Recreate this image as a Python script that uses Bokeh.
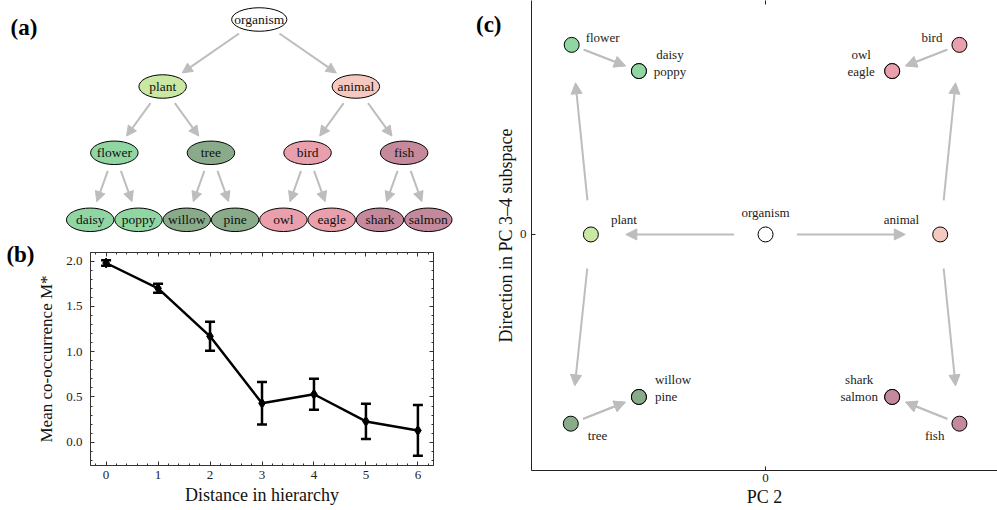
import math
from bokeh.plotting import figure
from bokeh.models import (Range1d, ColumnDataSource, Arrow, NormalHead, Whisker, TeeHead,
                          LinearAxis, SingleIntervalTicker, FixedTicker, Label, PrintfTickFormatter,
                          CustomJSTickFormatter)
from bokeh.layouts import row, column
from bokeh.embed import file_html
from bokeh.resources import INLINE
from bokeh.core.properties import value

# ---------------- data ----------------
node_names = ["organism", "plant", "animal", "flower", "tree", "bird", "fish",
              "daisy", "poppy", "willow", "pine", "owl", "eagle", "shark", "salmon"]
node_parents = [None, "organism", "organism", "plant", "plant", "animal", "animal",
                "flower", "flower", "tree", "tree", "bird", "bird", "fish", "fish"]
node_colors = ["#ffffff", "#c9e8a1", "#f6c9c0", "#8fd6a2", "#8aab8a", "#e9a0ac", "#c48a9b",
               "#8fd6a2", "#8fd6a2", "#8aab8a", "#8aab8a", "#e9a0ac", "#e9a0ac", "#c48a9b", "#c48a9b"]

distance = [0, 1, 2, 3, 4, 5, 6]
mean_cooc = [1.98, 1.70, 1.17, 0.43, 0.53, 0.23, 0.13]
cooc_err = [0.03, 0.05, 0.16, 0.235, 0.17, 0.195, 0.28]

# PC-space coordinates (PC 2, direction in PC 3-4 subspace)
pc2 = [0.0, -1.0, 1.0, -1.11, -1.115, 1.11, 1.11,
       -0.725, -0.725, -0.725, -0.725, 0.725, 0.725, 0.725, 0.725]
pc34 = [0.0, 0.0, 0.0, 1.085, -1.083, 1.085, -1.083,
        0.935, 0.935, -0.93, -0.93, 0.935, 0.935, -0.93, -0.93]

# labels in panel (c): text, node it belongs to
c_label_text = ["organism", "plant", "animal", "flower", "daisy", "poppy", "bird", "owl", "eagle",
                "tree", "willow", "pine", "fish", "shark", "salmon"]
c_label_node = ["organism", "plant", "animal", "flower", "daisy", "poppy", "bird", "owl", "eagle",
                "tree", "willow", "pine", "fish", "shark", "salmon"]

SERIF = "Liberation Serif"
GRAY = "#bdbdbd"

# ---------------- panel (a): hierarchy ----------------
children = {n: [] for n in node_names}
for n, par in zip(node_names, node_parents):
    if par:
        children[par].append(n)
depth = {}
for n, par in zip(node_names, node_parents):
    depth[n] = 0 if par is None else depth[par] + 1
leaves = [n for n in node_names if not children[n]]

LEAF_X0, LEAF_DX = 89.7, 48.3
LEVEL_Y = [19.0, 86.0, 152.3, 219.3]
tx = {}
for i, n in enumerate(leaves):
    tx[n] = LEAF_X0 + i * LEAF_DX


def place(n):
    if n in tx:
        return tx[n]
    xs = [place(c) for c in children[n]]
    tx[n] = sum(xs) / len(xs)
    return tx[n]


place(node_names[0])
ty = {n: LEVEL_Y[depth[n]] for n in node_names}
ew = {n: max(47.5, 6.9 * len(n)) for n in node_names}
EH = 23.5


def rad(n, ux, uy):
    a, b = ew[n] / 2, EH / 2
    return 1.0 / math.sqrt((ux / a) ** 2 + (uy / b) ** 2)


ea = dict(x0=[], y0=[], x1=[], y1=[])
for n, par in zip(node_names, node_parents):
    if par is None:
        continue
    dx, dy = tx[n] - tx[par], ty[n] - ty[par]
    L = math.hypot(dx, dy)
    ux, uy = dx / L, dy / L
    r0 = rad(par, ux, uy) + 7
    r1 = rad(n, ux, uy) + 7
    ea["x0"].append(tx[par] + ux * r0)
    ea["y0"].append(ty[par] + uy * r0)
    ea["x1"].append(tx[n] - ux * r1)
    ea["y1"].append(ty[n] - uy * r1)

pa = figure(width=470, height=240, x_range=Range1d(0, 470), y_range=Range1d(240, 0),
            output_backend="svg", toolbar_location=None, min_border=0)
pa.axis.visible = False
pa.grid.visible = False
pa.outline_line_color = None
pa.add_layout(Arrow(source=ColumnDataSource(ea), x_start="x0", y_start="y0", x_end="x1", y_end="y1",
                    line_color=GRAY, line_width=2,
                    end=NormalHead(size=10, fill_color=GRAY, line_color=GRAY)))
nsrc = ColumnDataSource(dict(x=[tx[n] for n in node_names], y=[ty[n] for n in node_names],
                             w=[ew[n] for n in node_names], name=node_names, color=node_colors))
pa.ellipse(x="x", y="y", width="w", height=EH, source=nsrc, fill_color="color",
           line_color="black", line_width=1)
pa.text(x="x", y="y", text="name", source=nsrc, text_align="center", text_baseline="middle",
        text_font=value(SERIF), text_font_size="13.5px", text_color="#111111")
pa.add_layout(Label(x=10, y=27, text="(a)", text_font=SERIF, text_font_style="bold",
                    text_font_size="23px", text_baseline="middle", text_color="black"))


def panel_letter_axis(letter, y, standoff):
    ax = LinearAxis(ticker=FixedTicker(ticks=[y], minor_ticks=[]),
                    formatter=CustomJSTickFormatter(code="return '%s'" % letter))
    ax.axis_line_color = None
    ax.major_tick_line_color = None
    ax.minor_tick_line_color = None
    ax.major_tick_in = 0
    ax.major_tick_out = 0
    ax.major_label_standoff = standoff
    ax.major_label_text_font = SERIF
    ax.major_label_text_font_style = "bold"
    ax.major_label_text_font_size = "23px"
    ax.major_label_text_color = "black"
    return ax


# ---------------- panel (b): co-occurrence ----------------
BX0, BX1, BY0, BY1 = -0.3, 6.3, -0.257, 2.096
pb = figure(width=470, height=270, x_range=Range1d(BX0, BX1), y_range=Range1d(BY0, BY1),
            output_backend="svg", toolbar_location=None,
            min_border_left=90, min_border_right=37, min_border_top=12, min_border_bottom=45)
pb.grid.visible = False
pb.outline_line_color = "#333333"
pb.xaxis.ticker = SingleIntervalTicker(interval=1, num_minor_ticks=5)
pb.yaxis.ticker = SingleIntervalTicker(interval=0.5, num_minor_ticks=5)
pb.yaxis.formatter = PrintfTickFormatter(format="%.1f")
pb.add_layout(LinearAxis(ticker=SingleIntervalTicker(interval=1, num_minor_ticks=5)), "above")
pb.add_layout(LinearAxis(ticker=SingleIntervalTicker(interval=0.5, num_minor_ticks=5)), "right")
for ax in pb.axis:
    ax.major_tick_in = 4
    ax.major_tick_out = 0
    ax.minor_tick_in = 2
    ax.minor_tick_out = 0
    ax.axis_line_color = "#333333"
    ax.major_tick_line_color = "#333333"
    ax.minor_tick_line_color = "#333333"
    ax.major_label_text_font = SERIF
    ax.major_label_text_font_size = "13px"
    ax.major_label_text_color = "#222222"
    ax.axis_label_text_font = SERIF
    ax.axis_label_text_font_style = "normal"
    ax.axis_label_text_font_size = "18px"
    ax.axis_label_text_color = "#111111"
for ax in pb.above + pb.right:
    ax.major_label_text_font_size = "1px"
    ax.major_label_text_color = None
    ax.major_label_standoff = 0
pb.below[0].axis_label = "Distance in hierarchy"
pb.left[0].axis_label = "Mean co-occurrence M*"
pb.left[0].axis_label_text_font_size = "17px"
pb.below[0].major_label_standoff = 5
pb.below[0].axis_label_standoff = 3
pb.left[0].major_label_standoff = 8
pb.left[0].axis_label_standoff = 7
pb_px_y = (BY1 - BY0) / 213.0
pb.add_layout(panel_letter_axis("(b)", BY1 - 2 * pb_px_y, 0), "left")

bsrc = ColumnDataSource(dict(x=distance, y=mean_cooc,
                             lo=[m - e for m, e in zip(mean_cooc, cooc_err)],
                             hi=[m + e for m, e in zip(mean_cooc, cooc_err)]))
pb.add_layout(Whisker(source=bsrc, base="x", upper="hi", lower="lo", dimension="height",
                      line_color="black", line_width=2.5,
                      upper_head=TeeHead(size=10, line_width=2.5, line_color="black"),
                      lower_head=TeeHead(size=10, line_width=2.5, line_color="black")))
pb.line(x="x", y="y", source=bsrc, line_color="black", line_width=2.5)
pb.scatter(x="x", y="y", source=bsrc, marker="diamond", size=10, fill_color="black", line_color="black")

# ---------------- panel (c): PC space ----------------
CX0, CX1, CY0, CY1 = -1.34, 1.328, -1.351, 1.339
pc = figure(width=527, height=510, x_range=Range1d(CX0, CX1), y_range=Range1d(CY0, CY1),
            output_backend="svg", toolbar_location=None,
            min_border_left=61, min_border_right=0, min_border_top=0, min_border_bottom=40)
pc.grid.visible = False
pc.outline_line_color = None
pc.xaxis.ticker = FixedTicker(ticks=[0])
pc.yaxis.ticker = FixedTicker(ticks=[0])
for ax in pc.axis:
    ax.major_tick_in = 4
    ax.major_tick_out = 0
    ax.minor_tick_line_color = None
    ax.axis_line_color = "#222222"
    ax.major_tick_line_color = "#222222"
    ax.major_label_text_font = SERIF
    ax.major_label_text_font_size = "13px"
    ax.major_label_text_color = "#222222"
    ax.axis_label_text_font = SERIF
    ax.axis_label_text_font_style = "normal"
    ax.axis_label_text_font_size = "18px"
    ax.axis_label_text_color = "#111111"
pc.xaxis.axis_label = "PC 2"
pc.yaxis.axis_label = "Direction in PC 3\u20134 subspace"
pc.xaxis.major_label_standoff = 3
pc.xaxis.axis_label_standoff = 2
pc.yaxis.major_label_standoff = 5
pc.yaxis.axis_label_standoff = 1
pc_py = (CY1 - CY0) / 470.0
pc.add_layout(panel_letter_axis("(c)", CY1 - 24 * pc_py, -9), "left")
top_ax = LinearAxis(ticker=FixedTicker(ticks=[0], minor_ticks=[]))
top_ax.axis_line_color = None
top_ax.major_tick_in = 4
top_ax.major_tick_out = 0
top_ax.major_tick_line_color = "#222222"
top_ax.minor_tick_line_color = None
top_ax.major_label_text_font_size = "1px"
top_ax.major_label_text_color = None
top_ax.major_label_standoff = 0
pc.add_layout(top_ax, "above")

pos = {n: (x, y) for n, x, y in zip(node_names, pc2, pc34)}
ca = dict(x0=[], y0=[], x1=[], y1=[])
for n, par in zip(node_names, node_parents):
    if par is None:
        continue
    (px, py), (cx, cy) = pos[par], pos[n]
    ca["x0"].append(px + 0.18 * (cx - px))
    ca["y0"].append(py + 0.18 * (cy - py))
    ca["x1"].append(px + 0.80 * (cx - px))
    ca["y1"].append(py + 0.80 * (cy - py))
pc.add_layout(Arrow(source=ColumnDataSource(ca), x_start="x0", y_start="y0", x_end="x1", y_end="y1",
                    line_color=GRAY, line_width=2,
                    end=NormalHead(size=11, fill_color=GRAY, line_color=GRAY)))
pc.scatter(x=pc2, y=pc34, size=15, fill_color=node_colors, line_color="black", line_width=1)

# label offsets in screen pixels (style)
lab_off = {
    "organism": (0, -22, "center"), "plant": (20, -15, "left"), "animal": (-21, -15, "right"),
    "flower": (14, -7, "left"), "daisy": (31, -17, "center"), "poppy": (31, 0, "center"),
    "bird": (-17, -7, "right"), "owl": (-31, -17, "center"), "eagle": (-31, 0, "center"),
    "tree": (17, 12, "left"), "willow": (16, -17, "left"), "pine": (16, 0, "left"),
    "fish": (-15, 12, "right"), "shark": (-33, -17, "center"), "salmon": (-33, 0, "center"),
}
lsrc = ColumnDataSource(dict(
    x=[pos[n][0] for n in c_label_node], y=[pos[n][1] for n in c_label_node],
    text=c_label_text,
    xo=[lab_off[t][0] for t in c_label_text], yo=[lab_off[t][1] for t in c_label_text],
    al=[lab_off[t][2] for t in c_label_text]))
pc.text(x="x", y="y", text="text", source=lsrc, x_offset="xo", y_offset="yo", text_align="al",
        text_baseline="middle", text_font=value(SERIF), text_font_size="13px", text_color="#222222")

layout = row(column(row(pa), pb), pc)
open("out.html", "w").write(file_html(layout, INLINE))
